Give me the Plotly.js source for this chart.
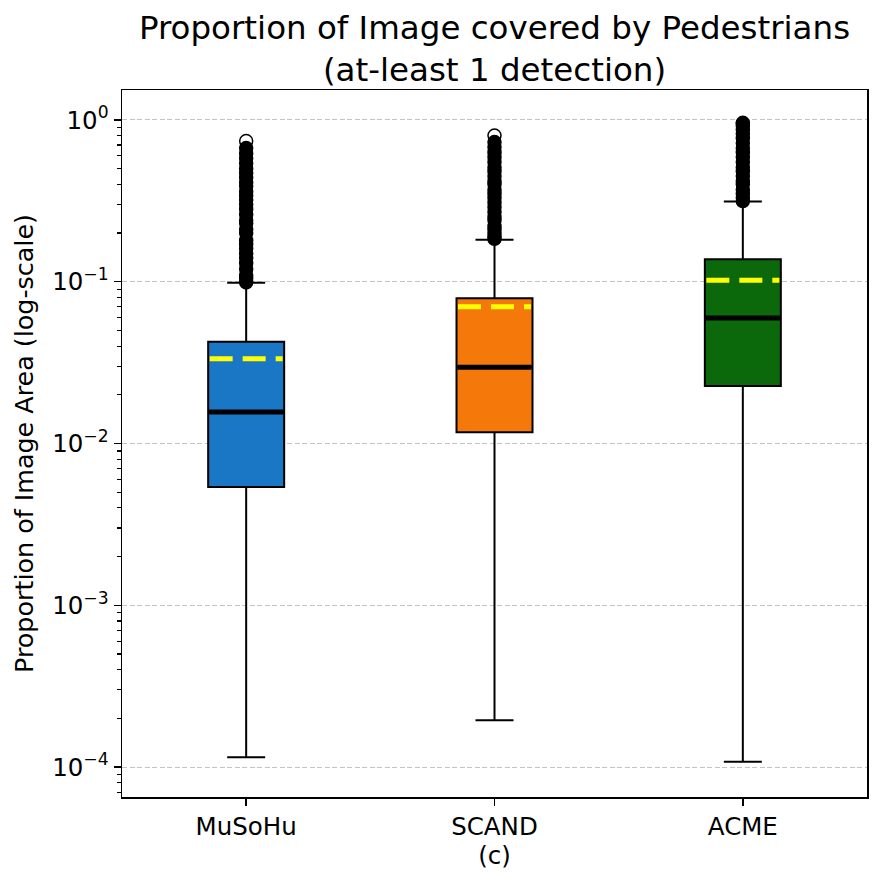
<!DOCTYPE html>
<html>
<head>
<meta charset="utf-8">
<script src="https://cdn.plot.ly/plotly-3.0.1.min.js"></script>
<style>
  html, body { margin: 0; padding: 0; background: #ffffff; }
  #chart { width: 883px; height: 884px; }
</style>
</head>
<body>
<div id="chart"></div>
<script>
// Box summary per dataset (proportion of image area covered by pedestrians)
const categories   = ['MuSoHu', 'SCAND', 'ACME'];
const q1Values     = [0.00538, 0.01172, 0.0227];
const medianValues = [0.01566, 0.0296, 0.0597];
const q3Values     = [0.0426, 0.079, 0.1377];
const lowerWhisker = [0.000115, 0.000195, 0.000108];
const upperWhisker = [0.0986, 0.182, 0.313];
const meanValues   = [0.0334, 0.0701, 0.102];

// Outlying observations above the upper whisker
const musohuOutliers = [0.099, 0.105, 0.11, 0.12, 0.13, 0.14, 0.15, 0.16, 0.17, 0.18, 0.2, 0.21,
  0.23, 0.24, 0.26, 0.28, 0.3, 0.32, 0.34, 0.36, 0.39, 0.41, 0.44, 0.47, 0.5, 0.54, 0.58, 0.62, 0.67, 0.74];
const scandOutliers = [0.184, 0.19, 0.2, 0.21, 0.22, 0.24, 0.25, 0.27, 0.29, 0.31, 0.33, 0.35, 0.37,
  0.4, 0.42, 0.45, 0.48, 0.51, 0.55, 0.59, 0.63, 0.68, 0.73, 0.8];
const acmeOutliers = [0.315, 0.33, 0.35, 0.37, 0.4, 0.42, 0.45, 0.48, 0.51, 0.55, 0.59, 0.63, 0.67,
  0.72, 0.77, 0.82, 0.87, 0.92, 0.95, 0.96];

const yTickVals  = [1, 0.1, 0.01, 0.001, 0.0001];
const yTickText  = ['10<sup>0</sup>', '10<sup>\u22121</sup>', '10<sup>\u22122</sup>', '10<sup>\u22123</sup>', '10<sup>\u22124</sup>'];

// Styling
const boxColors = ['#1a77c6', '#f5780a', '#0b690b'];
const boxWidth = 0.306;
const FONT = 'DejaVu Sans, Verdana, sans-serif';

const outlierSets = [musohuOutliers, scandOutliers, acmeOutliers];
const traces = [];

categories.forEach((name, i) => {
  traces.push({
    type: 'box',
    name: name,
    x: [i],
    q1: [q1Values[i]],
    median: [medianValues[i]],
    q3: [q3Values[i]],
    lowerfence: [lowerWhisker[i]],
    upperfence: [upperWhisker[i]],
    boxpoints: false,
    width: boxWidth,
    whiskerwidth: 0.5,
    fillcolor: boxColors[i],
    line: { color: '#000000', width: 2 },
    hoverinfo: 'skip',
    showlegend: false
  });
});

// thick median bars
categories.forEach((name, i) => {
  traces.push({
    type: 'scatter', mode: 'lines',
    x: [i - boxWidth / 2 + 0.004, i + boxWidth / 2 - 0.004],
    y: [medianValues[i], medianValues[i]],
    line: { color: '#000000', width: 5 },
    hoverinfo: 'skip', showlegend: false
  });
});

// dashed mean bars
categories.forEach((name, i) => {
  traces.push({
    type: 'scatter', mode: 'lines',
    x: [i - boxWidth / 2 + 0.006, i + boxWidth / 2 - 0.006],
    y: [meanValues[i], meanValues[i]],
    line: { color: '#ffff00', width: 5, dash: '23px,10px' },
    hoverinfo: 'skip', showlegend: false
  });
});

// outliers: stacked flier markers, the largest drawn as an open ring
outlierSets.forEach((vals, i) => {
  const symbols = vals.map((v, k) => (k === vals.length - 1 ? 'circle-open' : 'circle'));
  traces.push({
    type: 'scatter', mode: 'markers',
    x: vals.map(() => i),
    y: vals,
    marker: {
      symbol: symbols, size: 13, color: '#000000',
      line: { color: '#000000', width: 1.5 }
    },
    hoverinfo: 'skip', showlegend: false
  });
});

// minor tick positions for the log axis (2..9 within each decade)
const minorVals = [];
for (let e = -5; e <= 0; e++) {
  for (let m = 2; m <= 9; m++) minorVals.push(m * Math.pow(10, e));
}

const layout = {
  width: 883, height: 884,
  paper_bgcolor: '#ffffff', plot_bgcolor: '#ffffff',
  margin: { l: 122, r: 16, t: 90, b: 87 },
  font: { family: FONT, color: '#000000', size: 24 },
  title: {
    text: 'Proportion of Image covered by Pedestrians<br>(at-least 1 detection)',
    font: { family: FONT, size: 32.5, color: '#000000' },
    x: 0.5, xref: 'paper', xanchor: 'center',
    y: 1, yref: 'paper', yanchor: 'bottom',
    pad: { b: 51 }
  },
  xaxis: {
    range: [-0.5, 2.5],
    tickmode: 'array', tickvals: [0, 1, 2], ticktext: categories,
    ticks: 'outside', ticklen: 7, tickwidth: 1.5, tickcolor: '#000000',
    tickfont: { family: FONT, size: 24.5 },
    showline: true, linecolor: '#000000', linewidth: 1.5, mirror: true,
    showgrid: false, zeroline: false,
    title: { text: '(c)', font: { family: FONT, size: 24.5 }, standoff: 6 }
  },
  yaxis: {
    type: 'log',
    range: [-4.185, 0.185],
    tickmode: 'array', tickvals: yTickVals, ticktext: yTickText,
    ticks: 'outside', ticklen: 7, tickwidth: 1.5, tickcolor: '#000000',
    tickfont: { family: FONT, size: 24.5 },
    showline: true, linecolor: '#000000', linewidth: 1.5, mirror: true,
    showgrid: true, gridcolor: '#c4c4c4', gridwidth: 1, griddash: '5px,2.5px',
    zeroline: false,
    minor: {
      tickmode: 'array', tickvals: minorVals,
      ticks: 'outside', ticklen: 4, tickwidth: 1.2, tickcolor: '#000000',
      showgrid: false
    },
    title: { text: 'Proportion of Image Area (log-scale)', font: { family: FONT, size: 25.4 }, standoff: 11 }
  },
  showlegend: false
};

Plotly.newPlot('chart', traces, layout, { displayModeBar: false, staticPlot: true });
</script>
</body>
</html>
